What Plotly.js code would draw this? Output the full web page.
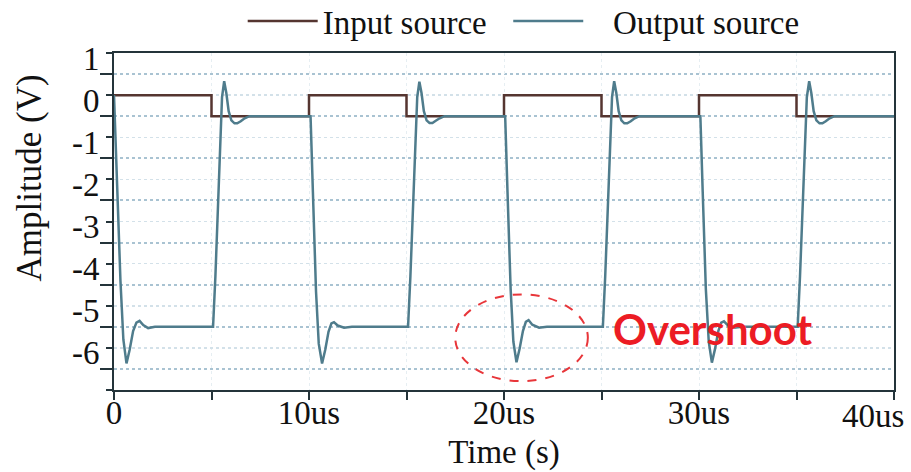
<!DOCTYPE html>
<html>
<head>
<meta charset="utf-8">
<script src="https://cdn.plot.ly/plotly-3.0.1.min.js"></script>
<style>
  html, body { margin: 0; padding: 0; background: #ffffff; }
  #chart { width: 911px; height: 472px; }
</style>
</head>
<body>
<div id="chart"></div>
<script>
// Square-wave drive (input) and the ringing response (output), time in microseconds.
const inputTime = [0, 5, 5, 10, 10, 15, 15, 20, 20, 25, 25, 30, 30, 35, 35, 40];
const inputVolts = [0, 0, -0.5, -0.5, 0, 0, -0.5, -0.5, 0, 0, -0.5, -0.5, 0, 0, -0.5, -0.5];

const outputTime = [
  // falling edge at 0 us
  0, 0.15, 0.33, 0.48, 0.64, 0.8, 0.98, 1.15, 1.31, 1.5, 1.75, 2.1,
  // rising edge at 5 us
  5.08, 5.2, 5.32, 5.44, 5.54, 5.65, 5.76, 5.88, 6.02, 6.18, 6.32, 6.5, 6.7, 6.95, 7.3,
  // falling edge at 10 us
  10.08, 10.2, 10.36, 10.5, 10.67, 10.83, 11.0, 11.15, 11.28, 11.47, 11.8, 12.2,
  // rising edge at 15 us
  15.08, 15.2, 15.32, 15.44, 15.55, 15.66, 15.77, 15.89, 16.03, 16.18, 16.33, 16.5, 16.7, 16.95, 17.3,
  // falling edge at 20 us
  20.06, 20.18, 20.34, 20.48, 20.64, 20.8, 20.97, 21.12, 21.26, 21.45, 21.8, 22.2,
  // rising edge at 25 us
  25.07, 25.19, 25.31, 25.43, 25.54, 25.65, 25.76, 25.88, 26.02, 26.17, 26.32, 26.5, 26.7, 26.95, 27.3,
  // falling edge at 30 us
  30.07, 30.19, 30.35, 30.5, 30.66, 30.82, 30.99, 31.14, 31.28, 31.47, 31.8, 32.2,
  // rising edge at 35 us
  35.06, 35.18, 35.3, 35.42, 35.53, 35.65, 35.76, 35.88, 36.02, 36.18, 36.33, 36.5, 36.7, 36.95, 37.3,
  40
];
const outputVolts = [
  0, -1.9, -4.4, -5.8, -6.37, -6.05, -5.6, -5.4, -5.36, -5.46, -5.53, -5.5,
  -5.5, -4.3, -2.9, -1.1, -0.05, 0.33, 0.05, -0.38, -0.6, -0.67, -0.67, -0.62, -0.55, -0.5, -0.5,
  -0.5, -2.3, -4.66, -5.9, -6.37, -6.05, -5.62, -5.42, -5.39, -5.47, -5.52, -5.5,
  -5.5, -4.3, -2.9, -1.1, -0.05, 0.32, 0.05, -0.38, -0.6, -0.66, -0.66, -0.61, -0.55, -0.5, -0.5,
  -0.5, -2.3, -4.6, -5.85, -6.34, -6.02, -5.6, -5.38, -5.34, -5.45, -5.52, -5.5,
  -5.5, -4.3, -2.9, -1.1, -0.05, 0.33, 0.05, -0.38, -0.6, -0.67, -0.67, -0.62, -0.55, -0.5, -0.5,
  -0.5, -2.3, -4.6, -5.85, -6.35, -6.03, -5.6, -5.4, -5.37, -5.46, -5.52, -5.5,
  -5.5, -4.3, -2.9, -1.1, -0.05, 0.33, 0.05, -0.38, -0.6, -0.67, -0.67, -0.62, -0.55, -0.5, -0.5,
  -0.5
];

// the 40us label is placed separately so it stays inside the page edge
const xTickVals = [0, 10, 20, 30, 40];
const xTickText = ['0', '10us', '20us', '30us', ''];
const xLastLabel = '40us';
const yTickVals = [1, 0, -1, -2, -3, -4, -5, -6, -7];
const yTickText = ['1', '0', '-1', '-2', '-3', '-4', '-5', '-6', ''];

const serif = 'Liberation Serif, Times New Roman, serif';
const ink = '#24343a';
const gridBlue = '#a9c3d2';
const nb = '\u00a0';

const traces = [
  {
    x: inputTime, y: inputVolts, name: 'Input source' + nb + nb,
    type: 'scatter', mode: 'lines',
    line: { color: '#553530', width: 2.5 }
  },
  {
    x: outputTime, y: outputVolts, name: nb + nb + nb + 'Output source',
    type: 'scatter', mode: 'lines',
    line: { color: '#4f7c8c', width: 2.5 }
  }
];

const layout = {
  width: 911, height: 472,
  margin: { l: 114, r: 17, t: 53, b: 82, autoexpand: false },
  paper_bgcolor: '#ffffff', plot_bgcolor: '#ffffff',
  font: { family: serif, size: 33, color: '#111111' },
  showlegend: true,
  legend: {
    orientation: 'h', x: 0.165, y: 1.095, xanchor: 'left', yanchor: 'middle',
    font: { family: serif, size: 33, color: '#111111' },
    itemwidth: 70, bgcolor: 'rgba(0,0,0,0)'
  },
  xaxis: {
    range: [0, 40], tickvals: xTickVals, ticktext: xTickText,
    ticks: 'outside', ticklen: 8, tickwidth: 2, tickcolor: ink,
    ticklabelstandoff: -16,
    showline: true, linecolor: ink, linewidth: 2, mirror: true,
    showgrid: true, gridcolor: '#e6eef2', griddash: 'dot', gridwidth: 1,
    zeroline: false,
    minor: { dtick: 5, tick0: 5, ticks: 'outside', ticklen: 8, tickwidth: 2, tickcolor: ink,
             showgrid: true, gridcolor: '#e6eef2', griddash: 'dot', gridwidth: 1 },
    tickfont: { family: serif, size: 33, color: '#111111' },
    title: { text: 'Time (s)', font: { family: serif, size: 33, color: '#111111' }, standoff: 10 }
  },
  yaxis: {
    range: [-7, 1], tickvals: yTickVals, ticktext: yTickText,
    ticks: 'outside', ticklen: 6, tickwidth: 2, tickcolor: ink,
    ticklabelshift: 5,
    showline: true, linecolor: ink, linewidth: 2, mirror: true,
    showgrid: true, gridcolor: '#d3e1e9', griddash: 'dot', gridwidth: 1.5,
    zeroline: false,
    minor: { dtick: 1, tick0: 0.5, ticks: 'outside', ticklen: 12, tickwidth: 2, tickcolor: ink,
             showgrid: true, gridcolor: gridBlue, griddash: 'dot', gridwidth: 2 },
    tickfont: { family: serif, size: 33, color: '#111111' }
  },
  shapes: [
    { type: 'circle', xref: 'x', yref: 'y', x0: 17.5, x1: 24.3, y0: -6.79, y1: -4.73,
      line: { color: '#e8363a', width: 2, dash: 'dash' } }
  ],
  annotations: [
    { text: 'Amplitude (V)', xref: 'paper', yref: 'paper', x: -0.108, y: 0.63,
      textangle: -90, showarrow: false, xanchor: 'center', yanchor: 'middle',
      font: { family: serif, size: 35, color: '#111111' } },
    { text: xLastLabel, xref: 'x', yref: 'paper', x: 40, y: 0,
      xanchor: 'right', yanchor: 'top', xshift: 12, yshift: -6, showarrow: false,
      font: { family: serif, size: 33, color: '#111111' } },
    { text: '<b>Overshoot</b>', xref: 'x', yref: 'y', x: 25.5, y: -5.55,
      xanchor: 'left', yanchor: 'middle', showarrow: false,
      font: { family: 'Lato, Open Sans, sans-serif', size: 42, color: '#ec1c24' } }
  ]
};

Plotly.newPlot('chart', traces, layout, { displayModeBar: false, staticPlot: true });
</script>
</body>
</html>
